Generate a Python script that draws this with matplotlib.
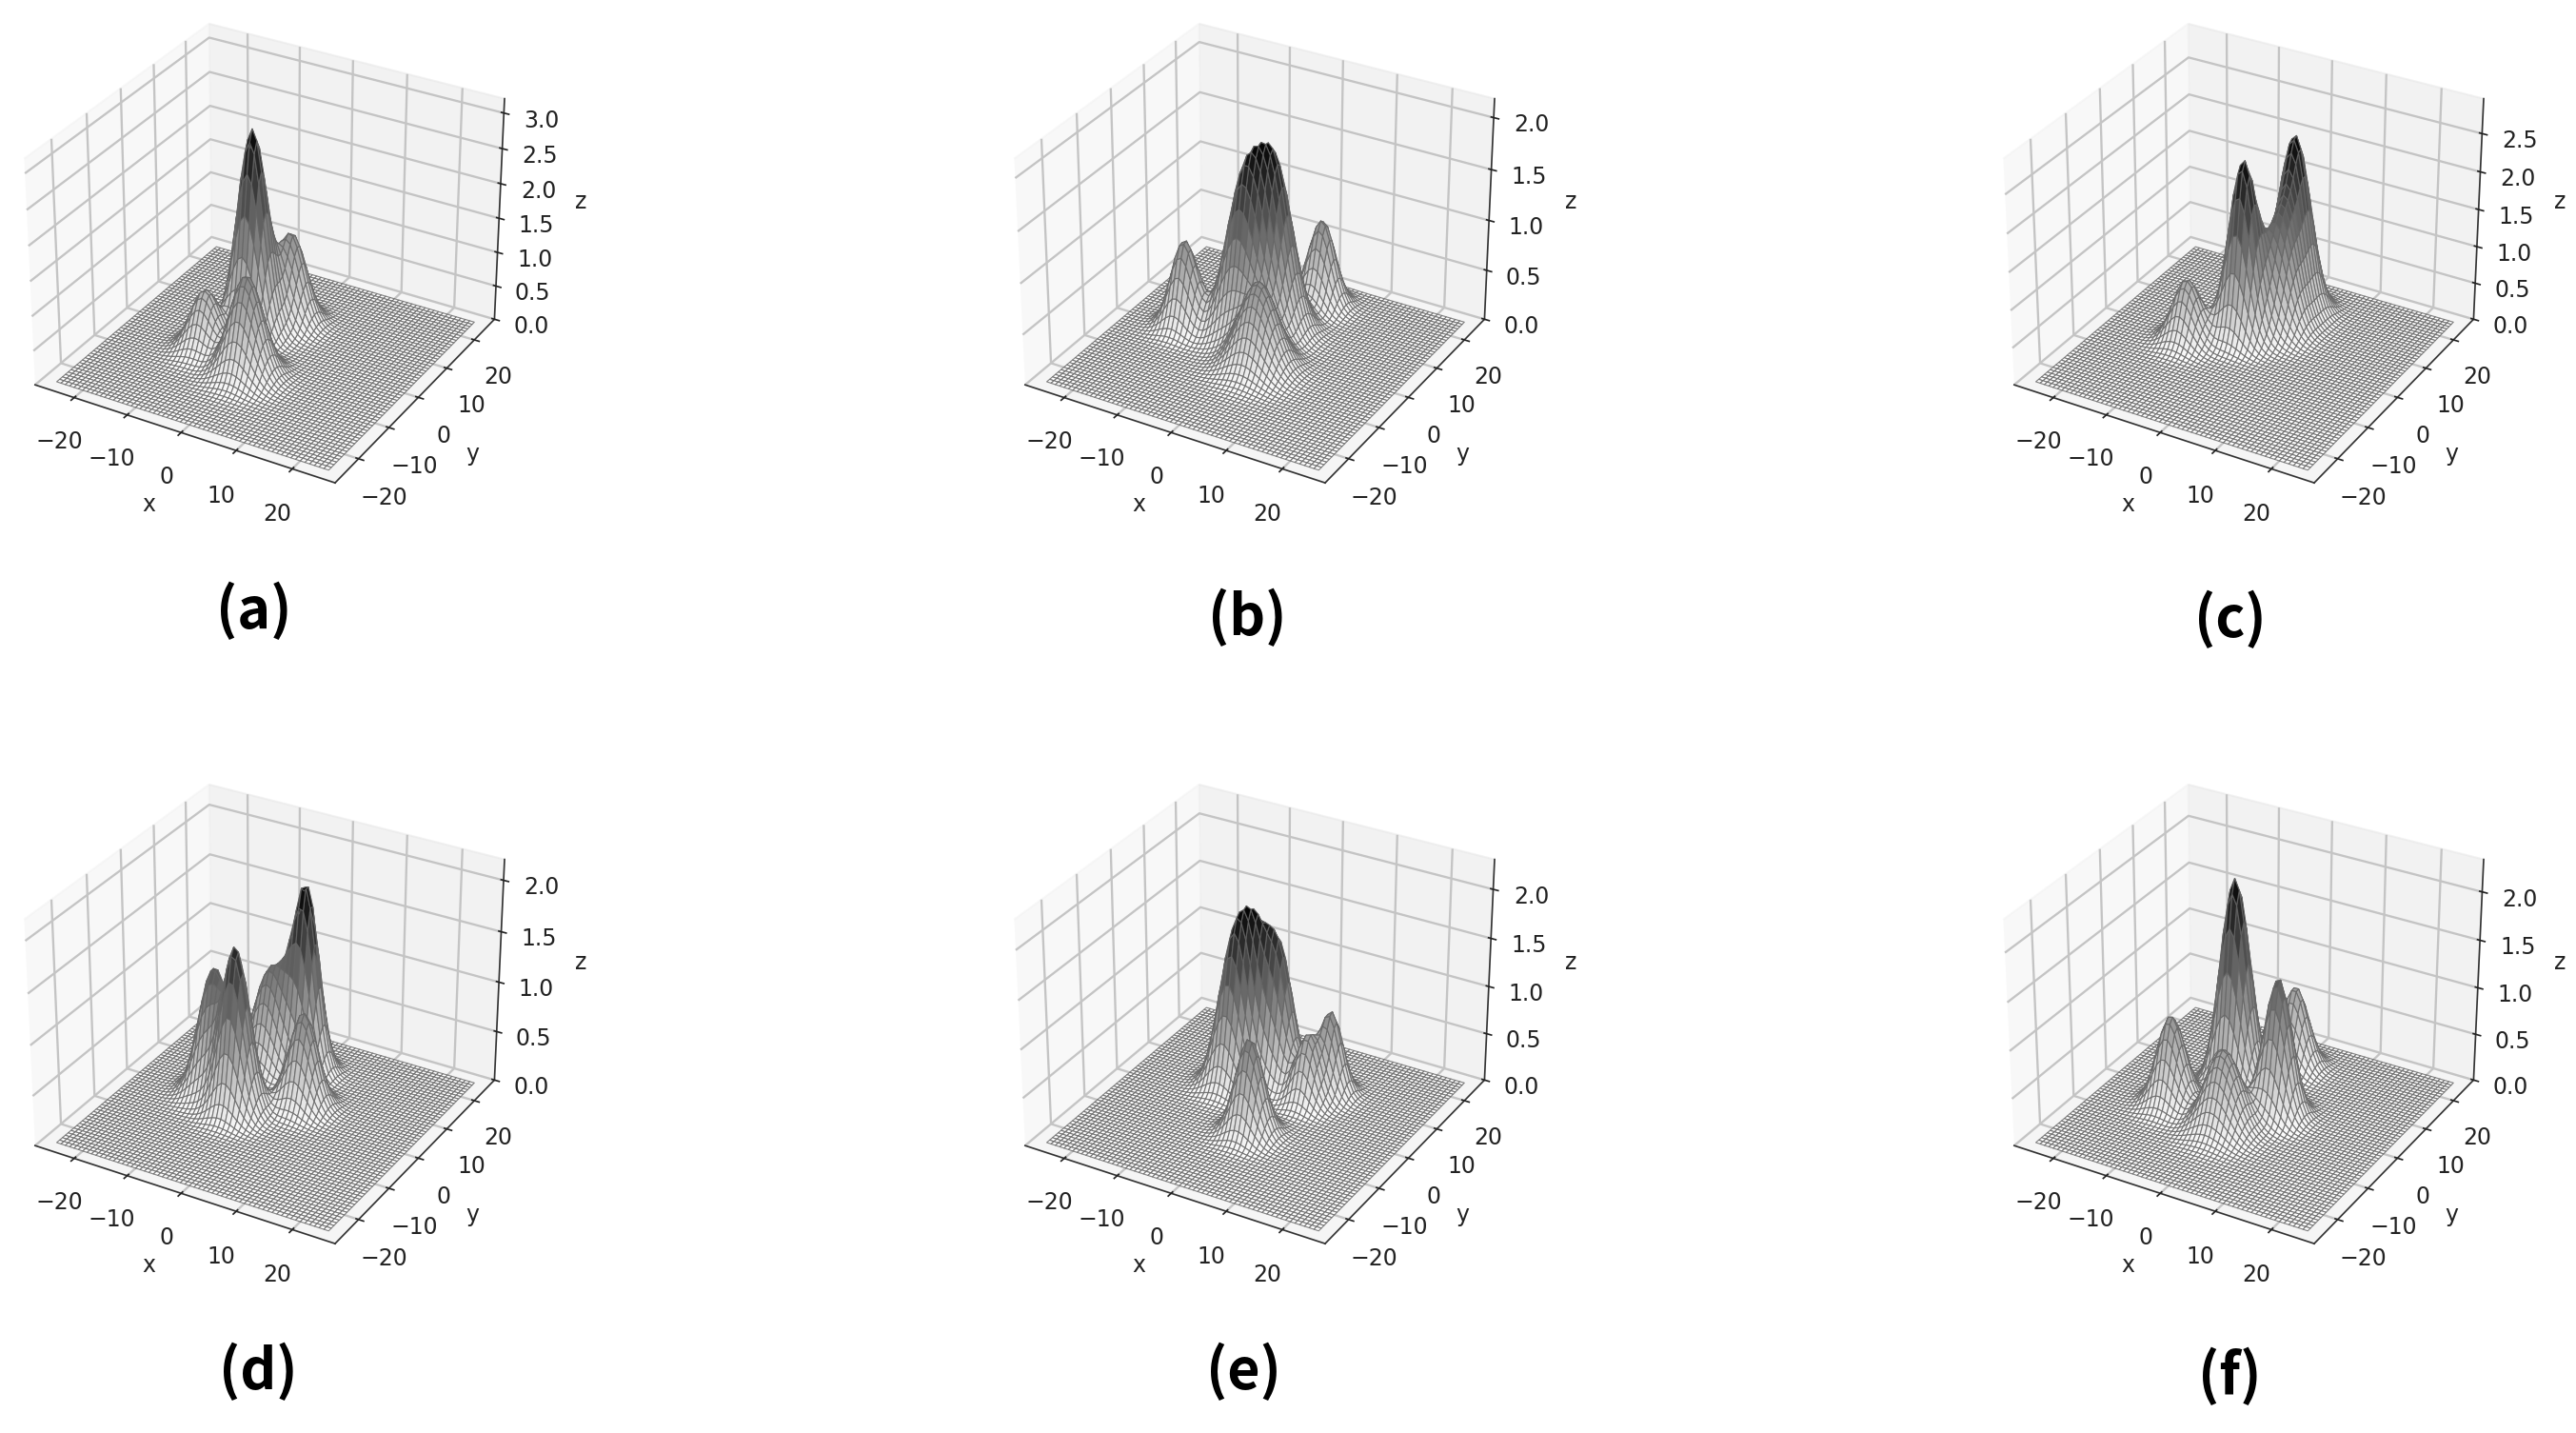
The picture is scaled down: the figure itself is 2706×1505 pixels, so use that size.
import numpy as np
import matplotlib
matplotlib.use("Agg")
import matplotlib.pyplot as plt

W, H, DPI = 2706, 1506, 152
plt.rcParams['font.family'] = ['DejaVu Sans']
plt.rcParams['font.size'] = 11.2
plt.rcParams['axes.edgecolor'] = '#333333'
plt.rcParams['text.color'] = '#222222'
plt.rcParams['axes.labelcolor'] = '#222222'
plt.rcParams['xtick.color'] = '#222222'
plt.rcParams['ytick.color'] = '#222222'
plt.rcParams['grid.color'] = '#c4c4c4'
plt.rcParams['grid.linewidth'] = 1.1

# Gaussian bumps: x centre, y centre, height, width
a_x = [-5.0, -9.2, 0.5, -1.2]
a_y = [3.3, -4.8, -8.1, 9.6]
a_h = [2.95, 0.88, 1.45, 1.3]
a_s = [2.5, 2.5, 2.8, 2.5]

b_x = [-4.6, -0.6, 2.5, -14.4, 1.8]
b_y = [2.6, 6.6, -4.5, 0.5, 17.7]
b_h = [1.42, 1.52, 0.85, 0.87, 0.87]
b_s = [3.0, 3.0, 3.2, 2.3, 2.3]

c_x = [-10.2, -2.8, 0.6, 1.2]
c_y = [-2.3, 3.1, 14.4, 8.5]
c_h = [0.84, 2.3, 2.25, 1.35]
c_s = [2.4, 2.4, 2.7, 2.8]

d_x = [-10.6, -4.6, 4.0, -0.9, -5.9]
d_y = [0.5, -2.7, 4.2, 13.8, 10.5]
d_h = [1.25, 1.6, 0.95, 1.8, 1.05]
d_s = [2.6, 2.4, 2.4, 2.2, 2.8]

e_x = [-8.0, -6.0, -1.5, 2.0, 5.4, 7.4]
e_y = [5.0, 8.6, 9.5, -6.5, 6.2, 10.8]
e_h = [1.3, 1.25, 1.3, 1.0, 0.68, 0.85]
e_s = [2.5, 2.4, 2.3, 2.3, 2.0, 2.0]

f_x = [-12.0, -5.8, -0.8, 4.7, -0.4]
f_y = [-4.2, 5.9, -6.6, 1.5, 16.3]
f_h = [0.95, 2.2, 0.85, 1.45, 0.87]
f_s = [2.4, 2.5, 3.0, 2.3, 2.3]

panel_labels = ['(a)', '(b)', '(c)', '(d)', '(e)', '(f)']
peaks = [(a_x, a_y, a_h, a_s), (b_x, b_y, b_h, b_s), (c_x, c_y, c_h, c_s),
         (d_x, d_y, d_h, d_s), (e_x, e_y, e_h, e_s), (f_x, f_y, f_h, f_s)]
z_top = [3.2, 2.18, 2.95, 2.2, 2.3, 2.33]
z_ticks = [[0, .5, 1, 1.5, 2, 2.5, 3], [0, .5, 1, 1.5, 2], [0, .5, 1, 1.5, 2, 2.5],
           [0, .5, 1, 1.5, 2], [0, .5, 1, 1.5, 2], [0, .5, 1, 1.5, 2]]
xy_ticks = [-20, -10, 0, 10, 20]
grid_axis = np.linspace(-25, 25, 61)

# pixel geometry
ax_side = 561
centers = [(275, 263), (1315, 263), (2354, 263), (275, 1062), (1315, 1062), (2354, 1062)]
label_pos = [(267, 642), (1310, 649), (2343, 651), (271, 1441), (1306, 1441), (2342, 1446)]

fig = plt.figure(figsize=(W / DPI, H / DPI), dpi=DPI)
X, Y = np.meshgrid(grid_axis, grid_axis)
for i, (px, py, ph, ps) in enumerate(peaks):
    cx, cy = centers[i]
    ax = fig.add_axes([(cx - ax_side / 2) / W, 1 - (cy + ax_side / 2) / H, ax_side / W, ax_side / H],
                      projection='3d')
    Z = np.zeros_like(X)
    for x0, y0, h, s in zip(px, py, ph, ps):
        Z += h * np.exp(-((X - x0) ** 2 + (Y - y0) ** 2) / (2 * s ** 2))
    ax.plot_surface(X, Y, Z, cmap='binary', vmin=0, vmax=Z.max(), rcount=61, ccount=61,
                    edgecolor=(0.4, 0.4, 0.4, 0.8), linewidth=0.55, antialiased=True)
    ax.set_xlim(-27.5, 27.5)
    ax.set_ylim(-27.5, 27.5)
    ax.set_zlim(0, z_top[i])
    ax.set_xticks(xy_ticks)
    ax.set_yticks(xy_ticks)
    ax.set_zticks(z_ticks[i])
    ax.set_xlabel('x')
    ax.set_ylabel('y')
    ax.set_zlabel('z')
    ax.patch.set_alpha(0)

for (lx, ly), t in zip(label_pos, panel_labels):
    fig.text(lx / W, 1 - ly / H, t, ha='center', va='center', fontsize=28, fontweight='bold',
             family=['Noto Sans CJK SC', 'DejaVu Sans'], color='black')

fig.savefig('out.png', dpi=DPI, facecolor='white')
